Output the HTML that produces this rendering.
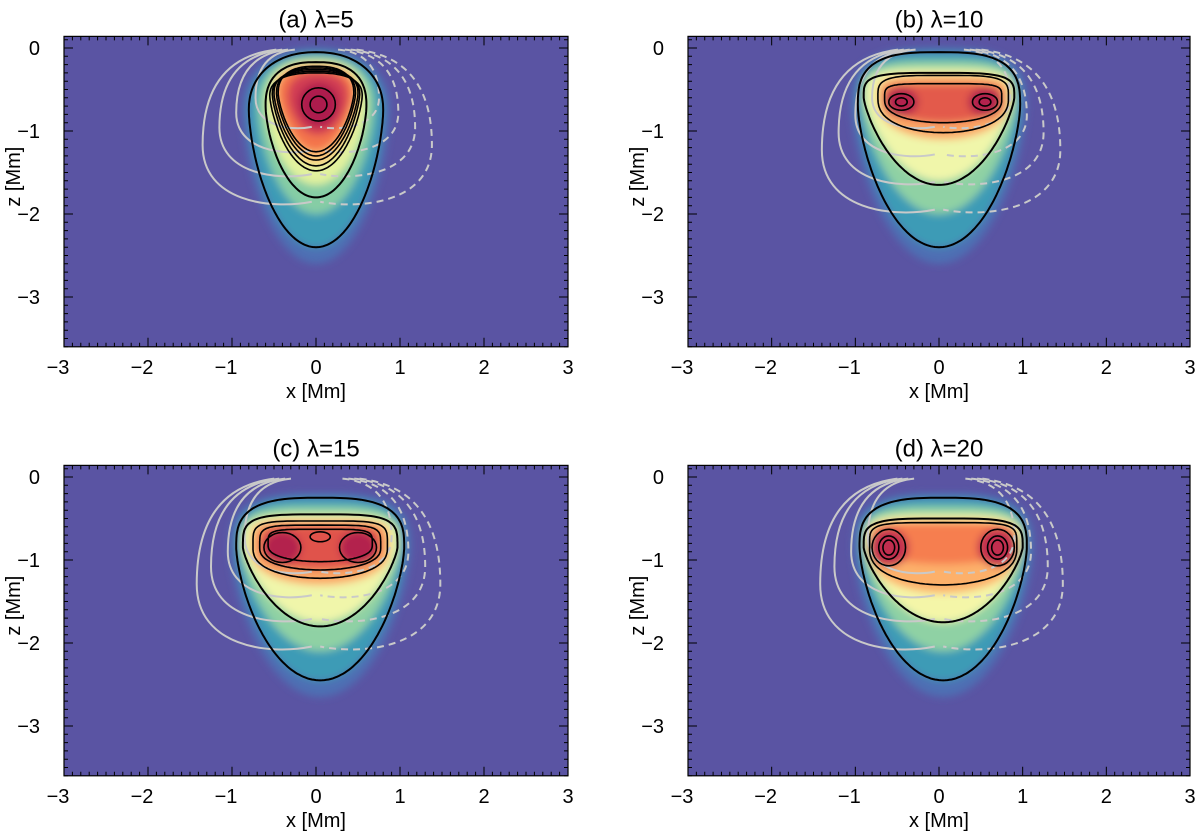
<!DOCTYPE html>
<html><head><meta charset="utf-8"><style>
html,body{margin:0;padding:0;background:#fff;}
svg{display:block;font-family:"Liberation Sans",sans-serif;}
</style></head><body>
<svg id="fig" width="1200" height="836" viewBox="0 0 1200 836">
<defs><filter id="blur" x="-20%" y="-20%" width="140%" height="140%"><feGaussianBlur stdDeviation="4"/></filter></defs>
</svg>
<script>
// ---- data ----
const panelTitles = ["(a) λ=5","(b) λ=10","(c) λ=15","(d) λ=20"];
const xTicks = [-3,-2,-1,0,1,2,3];
const zTicks = [0,-1,-2,-3];
const xRange = [-3,3];
const zRange = [-3.6,0.14];
// shape params: [xc, zTop, zBottom, halfWidth, zWidest, nTop, mBottom]
const outerContour = [[0,-0.05,-2.4,0.8,-0.75,2.2,1.6],[0,-0.05,-2.4,0.97,-0.7,3,1.5],[0.05,-0.25,-2.45,1.0,-0.85,3,1.5],[0.05,-0.25,-2.45,1.0,-0.85,3,1.5]];
const midContour = [[0,-0.17,-1.8,0.6,-0.7,2.5,1.6],[0,-0.3,-1.65,0.9,-0.6,4,1.3],[0.05,-0.45,-1.8,0.92,-0.85,4,1.3],[0.05,-0.5,-1.75,0.95,-0.85,4,1.3]];
const innerContours = [
 [[0,-0.22,-1.25,0.45,-0.55,2.5,1.4],[0,-0.24,-1.3,0.47,-0.55,2.5,1.4],[0,-0.26,-1.35,0.5,-0.55,2.5,1.4],[0,-0.28,-1.42,0.52,-0.56,2.5,1.4],[0,-0.3,-1.48,0.55,-0.58,2.5,1.4]],
 [[0.05,-0.33,-1.02,0.78,-0.6,4,2.5],[0.05,-0.43,-0.9,0.7,-0.62,5,2.5]],
 [[0.05,-0.53,-1.22,0.8,-0.85,5,2.5],[0.05,-0.58,-1.12,0.72,-0.85,5,2.5],[0.05,-0.63,-1.02,0.62,-0.82,5,2.5]],
 [[0.05,-0.55,-1.3,0.88,-0.85,5,2.5]]
];
// cores: [x, z, rx, rz]
const cores = [
 [[0.03,-0.68,0.2,0.2],[0.03,-0.68,0.1,0.1]],
 [[-0.45,-0.65,0.15,0.1],[-0.45,-0.65,0.07,0.05],[0.55,-0.65,0.15,0.1],[0.55,-0.65,0.07,0.05]],
 [[-0.4,-0.85,0.22,0.18],[0.5,-0.85,0.22,0.18],[0.05,-0.72,0.12,0.06]],
 [[-0.6,-0.85,0.2,0.22],[-0.6,-0.85,0.12,0.14],[-0.6,-0.85,0.07,0.09],[0.7,-0.85,0.2,0.22],[0.7,-0.85,0.12,0.14],[0.7,-0.85,0.07,0.09]]
];
// filled colour layers per panel: shape + colour
const fillLayers = [
 [[[0,0.0,-2.6,0.88,-0.75,2.2,1.6],"#4d6fb4"],[[0,-0.05,-2.4,0.8,-0.75,2.2,1.6],"#3d9bb6"],[[0,-0.1,-2.0,0.7,-0.7,2.3,1.6],"#86cda5"],[[0,-0.15,-1.65,0.6,-0.7,2.5,1.6],"#e2f29e"],[[0,-0.2,-1.4,0.52,-0.58,2.5,1.4],"#fdc77a"],[[0,-0.22,-1.25,0.46,-0.55,2.5,1.4],"#f4744b"],[[0.02,-0.3,-1.05,0.36,-0.6,2.5,1.5],"#d23c52"],[[0.03,-0.42,-0.95,0.24,-0.65,2,2],"#ad1a4e"]],
 [[[0,0.0,-2.6,1.05,-0.7,3,1.5],"#4d6fb4"],[[0,-0.05,-2.4,0.97,-0.7,3,1.5],"#3d9bb6"],[[0,-0.15,-2.0,0.93,-0.65,3.5,1.4],"#8fd1a4"],[[0,-0.25,-1.6,0.88,-0.62,4,1.3],"#f0f6aa"],[[0.05,-0.33,-1.1,0.78,-0.6,4,2.5],"#fba766"],[[0.05,-0.43,-0.9,0.7,-0.62,5,2.5],"#e35a4c"],[[-0.45,-0.48,-0.82,0.2,-0.65,2,2],"#b3204e"],[[0.55,-0.48,-0.82,0.2,-0.65,2,2],"#b3204e"]],
 [[[0.05,-0.2,-2.65,1.08,-0.85,3,1.5],"#4d6fb4"],[[0.05,-0.25,-2.45,1.0,-0.85,3,1.5],"#3d9bb6"],[[0.05,-0.35,-2.1,0.96,-0.85,3.5,1.4],"#8fd1a4"],[[0.05,-0.45,-1.75,0.92,-0.85,4,1.3],"#f0f6aa"],[[0.05,-0.52,-1.3,0.82,-0.85,5,2.5],"#fba766"],[[0.05,-0.58,-1.12,0.72,-0.85,5,2.5],"#e0524b"],[[-0.4,-0.65,-1.05,0.22,-0.85,2,2],"#b3204e"],[[0.5,-0.65,-1.05,0.22,-0.85,2,2],"#b3204e"]],
 [[[0.05,-0.2,-2.65,1.08,-0.85,3,1.5],"#4d6fb4"],[[0.05,-0.25,-2.45,1.0,-0.85,3,1.5],"#3d9bb6"],[[0.05,-0.35,-2.1,0.97,-0.85,3.5,1.4],"#8fd1a4"],[[0.05,-0.45,-1.75,0.94,-0.85,4,1.3],"#f4f6a8"],[[0.05,-0.52,-1.4,0.88,-0.85,5,2.5],"#fdb06a"],[[0.05,-0.56,-1.05,0.85,-0.8,5,2.5],"#f67e50"],[[-0.6,-0.62,-1.08,0.24,-0.85,2,2],"#c22e4f"],[[0.7,-0.62,-1.08,0.24,-0.85,2,2],"#c22e4f"]]
];
// field-line loops: [xExtreme, zBottom]
const loopsLeft = [[[-0.72,-1.0],[-0.95,-1.3],[-1.15,-1.6],[-1.35,-1.95]],[[-0.8,-1.0],[-1.0,-1.35],[-1.2,-1.7],[-1.4,-2.05]],[[-0.85,-1.2],[-1.05,-1.5],[-1.25,-1.8],[-1.42,-2.15]],[[-0.85,-1.2],[-1.05,-1.5],[-1.25,-1.8],[-1.42,-2.15]]];
const loopsRight = [[[0.75,-1.0],[0.98,-1.3],[1.18,-1.6],[1.38,-1.95]],[[0.85,-1.0],[1.05,-1.35],[1.25,-1.7],[1.45,-2.05]],[[0.9,-1.2],[1.1,-1.5],[1.3,-1.8],[1.48,-2.15]],[[0.9,-1.2],[1.1,-1.5],[1.3,-1.8],[1.48,-2.15]]];
// surface lines: [xFar, zNear]
const surfRight = [[2.0,-0.25],[1.7,-0.15],[1.4,-0.08],[1.1,-0.02]];
const surfLeft = [[-1.8,-0.3],[-1.5,-0.2],[-1.2,-0.12],[-0.9,-0.05]];
// ---- layout ----
const panelBoxes = [[64,568,48],[688,1190,48],[64,568,477],[688,1190,477]];
const zScale = 83;
const NS="http://www.w3.org/2000/svg";
const svg=document.getElementById('fig');
function el(tag,attrs,parent){const e=document.createElementNS(NS,tag);for(const k in attrs)e.setAttribute(k,attrs[k]);(parent||svg).appendChild(e);return e;}
function shapePath(p,X,Z){
 const [xc,zt,zb,w,zw,n,m]=p;const s0=(zt-zw)/(zt-zb);const N=90;const R=[];
 for(let i=0;i<=N;i++){const t=i/N;const s=(1-Math.cos(Math.PI*t))/2;let h;
  if(s<s0){const v=(s0-s)/s0;h=w*Math.pow(Math.max(0,1-Math.pow(v,n)),1/n);}
  else{const u=(s-s0)/(1-s0);h=w*Math.pow(Math.max(0,1-Math.pow(u,m)),0.5);}
  R.push([h,zt+(zb-zt)*s]);}
 let d="";R.forEach((q,i)=>{d+=(i?"L":"M")+X(xc+q[0]).toFixed(1)+","+Z(q[1]).toFixed(1);});
 for(let i=R.length-1;i>=0;i--){d+="L"+X(xc-R[i][0]).toFixed(1)+","+Z(R[i][1]).toFixed(1);}
 return d+"Z";}
panelBoxes.forEach((b,pi)=>{
 const [L,Rr,z0]=b;
 const sx=(Rr-L)/(xRange[1]-xRange[0]);const sz=zScale;
 const X=x=>L+(x-xRange[0])*sx;const Z=z=>z0-z*sz;
 const T=Z(zRange[1]), B=Z(zRange[0]);
 const g=el('g',{});
 
 
 const cid='clip'+pi;
 const cp=el('clipPath',{id:cid},g);el('rect',{x:L,y:T,width:Rr-L,height:B-T},cp);
 const bg=el('rect',{x:L,y:T,width:Rr-L,height:B-T,fill:'#5a54a3'},g);
 
 
 const cg=el('g',{'clip-path':'url(#'+cid+')'},g);
 const fg=el('g',{filter:'url(#blur)'},cg);
 
 
 fillLayers[pi].forEach(l=>{el('path',{d:shapePath(l[0],X,Z),fill:l[1]},fg);});
 const gl=el('g',{fill:'none',stroke:'#c9c9c9','stroke-width':2},cg);
 
 
 const loop=(xe,zb,dash)=>{const s=Math.sign(xe);
  const d=`M${X(xe*0.35)},${Z(-0.02)}C${X(xe*0.85)},${Z(zb*0.05)} ${X(xe)},${Z(zb*0.3)} ${X(xe)},${Z(zb*0.6)}C${X(xe)},${Z(zb*0.95)} ${X(xe*0.4)},${Z(zb)} ${X(s*0.05)},${Z(zb*0.95)}`;
  const p=el('path',{d:d},gl);if(dash)p.setAttribute('stroke-dasharray','7,5');};
 loopsLeft[pi].forEach(q=>loop(q[0],q[1],false));
 loopsRight[pi].forEach(q=>loop(q[0],q[1],true));
 surfRight[pi].forEach(q=>{el('path',{d:`M${X(0.15)},${Z(0.16)}C${X(0.5)},${Z(q[1])} ${X(q[0]*0.7)},${Z(q[1])} ${X(q[0])},${Z(0.16)}`},gl);});
 surfLeft[pi].forEach(q=>{el('path',{d:`M${X(q[0])},${Z(0.16)}C${X(q[0]*0.6)},${Z(q[1])} ${X(-0.3)},${Z(q[1])} ${X(0)},${Z(q[1]-0.05)}`,'stroke-dasharray':'7,5'},gl);});
 const bl=el('g',{fill:'none',stroke:'#000','stroke-width':2},cg);
 
 
 el('path',{d:shapePath(outerContour[pi],X,Z)},bl);
 el('path',{d:shapePath(midContour[pi],X,Z)},bl);
 innerContours[pi].forEach(p=>el('path',{d:shapePath(p,X,Z),'stroke-width':1.6},bl));
 cores[pi].forEach(c=>el('ellipse',{cx:X(c[0]),cy:Z(c[1]),rx:c[2]*sx,ry:c[3]*sz,'stroke-width':1.6},bl));
 const fr=el('rect',{x:L,y:T,width:Rr-L,height:B-T,fill:'none',stroke:'#000','stroke-width':1.2},g);
 
 
 let td="";
 for(let i=-30;i<=30;i++){const x=X(i/10);const len=(i%10===0)?9:4;td+=`M${x},${B}v${-len}M${x},${T}v${len}`;}
 for(let i=-36;i<=1;i++){const y=Z(i/10);const len=(i%10===0)?9:4;td+=`M${L},${y}h${len}M${Rr},${y}h${-len}`;}
 el('path',{d:td,stroke:'#000','stroke-width':1},g);
 xTicks.forEach(v=>{const t=el('text',{x:X(v)-(v<0?6:0),y:B+27,'text-anchor':'middle','font-size':20},g);t.textContent=v<0?'−'+Math.abs(v):String(v);
  
  });
 zTicks.forEach(v=>{const t=el('text',{x:L-24,y:Z(v)+7,'text-anchor':'end','font-size':20},g);t.textContent=v<0?'−'+Math.abs(v):String(v);
  
  });
 const xt=el('text',{x:(L+Rr)/2,y:B+51,'text-anchor':'middle','font-size':20},g);xt.textContent='x [Mm]';
 
 
 const yt=el('text',{x:0,y:0,'text-anchor':'middle','font-size':20,transform:`translate(${L-44},${Z(-1.55)}) rotate(-90)`},g);yt.textContent='z [Mm]';
 
 
 const tt=el('text',{x:(L+Rr)/2,y:T-9,'text-anchor':'middle','font-size':24},g);tt.textContent=panelTitles[pi];
 
 
});
</script>
</body></html>
